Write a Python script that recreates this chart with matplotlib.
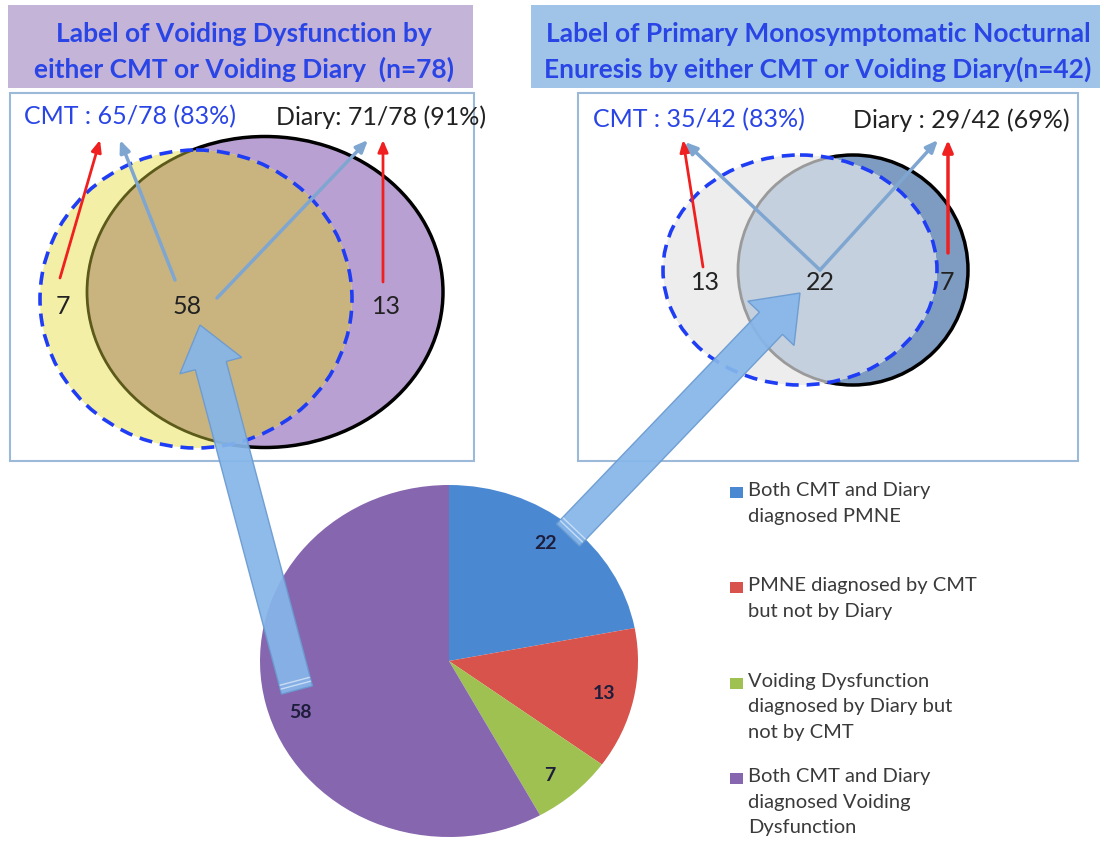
import numpy as np
import matplotlib.pyplot as plt
from matplotlib.patches import Ellipse, Rectangle, FancyArrow

plt.rcParams['font.family'] = ['Lato', 'DejaVu Sans']

# ---- data ----
pie_values = [22, 13, 7, 58]
pie_labels = ["Both CMT and Diary\ndiagnosed PMNE",
              "PMNE diagnosed by CMT\nbut not by Diary",
              "Voiding Dysfunction\ndiagnosed by Diary but\nnot by CMT",
              "Both CMT and Diary\ndiagnosed Voiding\nDysfunction"]
pie_colors = ['#4A89D2', '#D8534B', '#9EC152', '#8666AE']

vd_title = "Label of Voiding Dysfunction by\neither CMT or Voiding Diary  (n=78)"
vd_counts = [7, 58, 13]          # CMT only, both, Diary only
vd_cmt = "CMT : 65/78 (83%)"
vd_diary = "Diary: 71/78 (91%)"

pmne_title = "Label of Primary Monosymptomatic Nocturnal\nEnuresis by either CMT or Voiding Diary(n=42)"
pmne_counts = [13, 22, 7]
pmne_cmt = "CMT : 35/42 (83%)"
pmne_diary = "Diary : 29/42 (69%)"

W, H = 1104, 842
fig = plt.figure(figsize=(W / 100, H / 100), dpi=100)
fig.patch.set_facecolor('white')

# background layer in pixel coords
ax = fig.add_axes([0, 0, 1, 1], zorder=0)
ax.set_xlim(0, W)
ax.set_ylim(H, 0)
ax.axis('off')

TITLE_BLUE = '#2A45E6'
DASH_BLUE = '#1F3DF5'


def draw_venn(cmt, diary, c_only, d_only, both, inner_edge):
    # cmt / diary: (cx, cy, width, height)
    ax.add_patch(Ellipse(diary[:2], diary[2], diary[3], fc=d_only, ec='black', lw=2.5, zorder=2))
    c = Ellipse(cmt[:2], cmt[2], cmt[3], fc=c_only, ec='none', zorder=3)
    ax.add_patch(c)
    inter = Ellipse(diary[:2], diary[2], diary[3], fc=both, ec=inner_edge, lw=2, zorder=4)
    ax.add_patch(inter)
    inter.set_clip_path(c)
    ax.add_patch(Ellipse(cmt[:2], cmt[2], cmt[3], fc='none', ec=DASH_BLUE, lw=2.6,
                         ls=(0, (3.6, 2.2)), zorder=5))


def thin_arrow(tail, head, color, lw=2):
    ax.annotate('', xy=head, xytext=tail, zorder=6,
                arrowprops=dict(arrowstyle='-|>,head_length=0.7,head_width=0.3',
                                color=color, lw=lw, shrinkA=0, shrinkB=0))


# ---- left panel ----
ax.add_patch(Rectangle((8, 5), 465, 83, fc='#C4B4D8', ec='none'))
ax.text(244, 52, vd_title, ha='center', va='center', fontsize=19, fontweight='bold',
        color=TITLE_BLUE, linespacing=1.55)
ax.add_patch(Rectangle((10, 93), 464, 368, fc='white', ec='#9DB9DA', lw=1.5, zorder=1))
draw_venn((196, 299, 312, 298), (265, 292, 356, 311), '#F3EFA6', '#B9A0D2', '#C9B47F', '#5C5A1A')
ax.text(130, 117, vd_cmt, ha='center', va='center', fontsize=18, color=TITLE_BLUE, zorder=7)
ax.text(381, 117, vd_diary, ha='center', va='center', fontsize=18, color='#222222', zorder=7)
for v, x in zip(vd_counts, [63, 187, 386]):
    ax.text(x, 307, str(v), ha='center', va='center', fontsize=18, color='#222222', zorder=7)
thin_arrow((60, 278), (100, 140), '#F02020')
thin_arrow((175, 280), (120, 140), '#7FA6D0', 2.5)
thin_arrow((217, 298), (368, 140), '#7FA6D0', 2.5)
thin_arrow((383, 282), (383, 140), '#F02020')

# ---- right panel ----
ax.add_patch(Rectangle((531, 5), 569, 83, fc='#A0C4E8', ec='none'))
ax.text(818, 52, pmne_title, ha='center', va='center', fontsize=19, fontweight='bold',
        color=TITLE_BLUE, linespacing=1.55)
ax.add_patch(Rectangle((578, 93), 500, 368, fc='white', ec='#9DB9DA', lw=1.5, zorder=1))
draw_venn((800, 270, 274, 230), (853, 270, 230, 230), '#EDEDED', '#7E9CC1', '#C5D0DE', '#9A9A9A')
ax.text(699, 120, pmne_cmt, ha='center', va='center', fontsize=18, color=TITLE_BLUE, zorder=7)
ax.text(961, 120, pmne_diary, ha='center', va='center', fontsize=18, color='#222222', zorder=7)
for v, x in zip(pmne_counts, [705, 820, 947]):
    ax.text(x, 283, str(v), ha='center', va='center', fontsize=18, color='#222222', zorder=7)
thin_arrow((703, 267), (683, 140), '#F02020')
thin_arrow((820, 270), (685, 142), '#7FA6D0', 2.5)
thin_arrow((820, 270), (938, 140), '#7FA6D0', 2.5)
thin_arrow((948, 253), (948, 140), '#F02020', 2.5)

# ---- pie ----
cx, cy, rx, ry = 449, 661, 189, 176
axp = fig.add_axes([(cx - rx) / W, (H - cy - ry) / H, 2 * rx / W, 2 * ry / H], zorder=1)
total = sum(pie_values)
wedges, _, autotexts = axp.pie(pie_values, colors=pie_colors, startangle=90, counterclock=False,
                               autopct=lambda p: f'{p * total / 100:.0f}', pctdistance=0.85,
                               wedgeprops=dict(linewidth=0),
                               textprops=dict(fontsize=14, fontweight='bold', color='#1E1E3C'))
axp.set_aspect('auto')
axp.set_xlim(-1, 1)
axp.set_ylim(-1, 1)
# nudge labels a little along the rim, as in the original
shift = [2, 0, -2, 6]
for w, t, s in zip(wedges, autotexts, shift):
    a = np.deg2rad((w.theta1 + w.theta2) / 2 + s)
    t.set_position((0.84 * np.cos(a), 0.84 * np.sin(a)))

# legend, drawn by hand so the swatch sits on the first line
for i, (lab, col) in enumerate(zip(pie_labels, pie_colors)):
    y = 494 + i * 95.3
    ax.add_patch(Rectangle((730, y - 7), 13, 11, fc=col, ec='none'))
    ax.text(748, y - 12, lab, ha='left', va='top', fontsize=14.5, color='#3A3A3A', linespacing=1.62)

# ---- big arrows on top ----
axt = fig.add_axes([0, 0, 1, 1], zorder=3)
axt.set_xlim(0, W)
axt.set_ylim(H, 0)
axt.axis('off')
for tail, tip in [((297, 690), (200, 325)), ((568, 535), (800, 293))]:
    d = np.subtract(tip, tail)
    axt.add_patch(FancyArrow(tail[0], tail[1], d[0], d[1], width=32,
                             head_width=64, head_length=42, length_includes_head=True,
                             fc='#86B6EA', ec='#6A9AD0', lw=1, alpha=0.92))
    # little bands near the tail end
    u = d / np.hypot(*d)
    n = np.array([-u[1], u[0]])
    for k in (5, 9):
        p = np.array(tail) + k * u
        axt.plot([p[0] - 15 * n[0], p[0] + 15 * n[0]], [p[1] - 15 * n[1], p[1] + 15 * n[1]],
                 color='#C8DDF4', lw=1)

fig.savefig('out.png', dpi=100)
